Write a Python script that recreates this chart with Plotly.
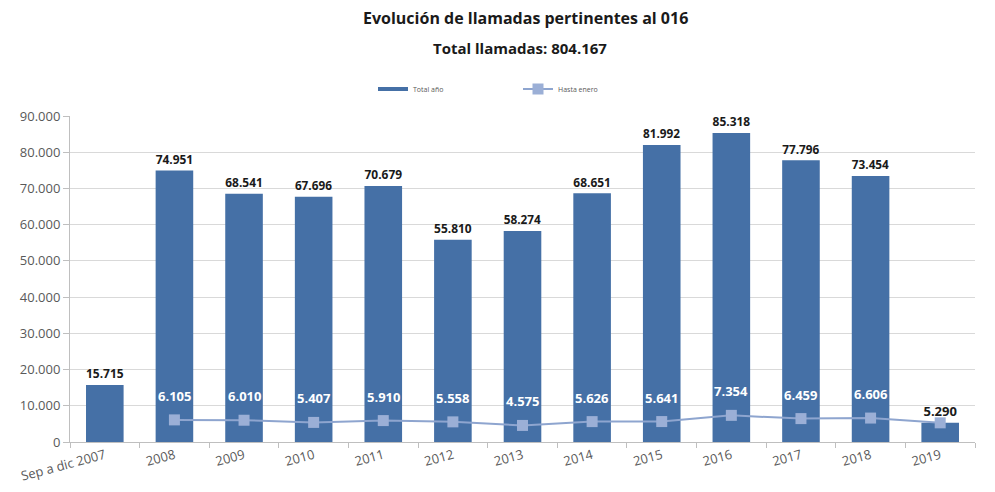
import plotly.graph_objects as go

categories = ["Sep a dic 2007", "2008", "2009", "2010", "2011", "2012", "2013",
              "2014", "2015", "2016", "2017", "2018", "2019"]
total_anio = [15715, 74951, 68541, 67696, 70679, 55810, 58274,
              68651, 81992, 85318, 77796, 73454, 5290]
hasta_enero_cats = categories[1:]
hasta_enero = [6105, 6010, 5407, 5910, 5558, 4575, 5626, 5641, 7354, 6459, 6606, 5290]
y_ticks = [0, 10000, 20000, 30000, 40000, 50000, 60000, 70000, 80000, 90000]
title_text = "Evolución de llamadas pertinentes al 016"
subtitle_text = "Total llamadas: 804.167"


def fmt(v):
    return f"{v:,}".replace(",", ".")


FONT = "Open Sans, DejaVu Sans, sans-serif"
BAR_COLOR = "#4570A6"
W, H = 995, 492
OFF = 8  # default page body margin
ML, MR, MT, MB = 70 - OFF, 28, 116 - OFF, 58
PW, PH = W - ML - MR, H - MT - MB


def px_to_paper(xp, yp):
    """page pixel -> paper coords (page pixels include the body offset)"""
    return (xp - OFF - ML) / PW, (H - MB - (yp - OFF)) / PH


fig = go.Figure()
fig.add_trace(go.Bar(
    x=categories, y=total_anio, name="Total año", showlegend=False,
    marker=dict(color=BAR_COLOR, line=dict(width=0)),
    text=[fmt(v) for v in total_anio], textposition="outside",
    textfont=dict(family=FONT, size=13, color="#1a1a1a", weight="bold"),
    cliponaxis=False,
))
# legend entry for the bars, drawn as a thick line like the reference
fig.add_trace(go.Scatter(
    x=[categories[0]], y=[None], name="Total año", mode="lines",
    line=dict(color=BAR_COLOR, width=4),
))
fig.add_trace(go.Scatter(
    x=hasta_enero_cats, y=hasta_enero, name="Hasta enero", mode="lines+markers",
    line=dict(color="#8EA5CF", width=2),
    marker=dict(symbol="square", size=11, color="#9BAFD6"),
))

for c, v in zip(hasta_enero_cats[:-1], hasta_enero[:-1]):
    fig.add_annotation(x=categories.index(c), y=v, text=fmt(v), showarrow=False, yshift=24,
                       font=dict(family=FONT, size=13, color="white", weight="bold"))

tx, ty = px_to_paper(525, 18)
fig.add_annotation(xref="paper", yref="paper", x=tx, y=ty,
                   xanchor="center", yanchor="middle",
                   text=f"<b>{title_text}</b>", showarrow=False,
                   font=dict(family=FONT, size=16, color="#1a1a1a"))
sx, sy = px_to_paper(520, 48)
fig.add_annotation(xref="paper", yref="paper", x=sx, y=sy,
                   xanchor="center", yanchor="middle",
                   text=f"<b>{subtitle_text}</b>", showarrow=False,
                   font=dict(family=FONT, size=15, color="#1a1a1a"))

lx, ly = px_to_paper(518, 89)
fig.update_layout(
    width=W, height=H,
    paper_bgcolor="white", plot_bgcolor="white",
    margin=dict(l=ML, r=MR, t=MT, b=MB, autoexpand=False),
    bargap=0.46,
    font=dict(family=FONT, color="#595959"),
    legend=dict(orientation="h", x=lx, xanchor="center", y=ly, yanchor="middle",
                font=dict(size=7, color="#595959"),
                itemwidth=30, entrywidth=100, entrywidthmode="pixels"),
    showlegend=True,
)
fig.update_yaxes(range=[0, 90000], tickvals=y_ticks, ticktext=[fmt(v) for v in y_ticks],
                 showgrid=True, gridcolor="#D9D9D9", gridwidth=1,
                 showline=True, linecolor="#BFBFBF", zeroline=False,
                 ticks="outside", ticklen=6, tickcolor="#BFBFBF",
                 tickfont=dict(size=13, color="#595959"))
fig.update_xaxes(type="category", categoryorder="array", categoryarray=categories,
                 range=[-0.5, len(categories) - 0.5],
                 tickangle=-15, showline=True, linecolor="#BFBFBF",
                 ticks="outside", ticklen=5, tickcolor="#BFBFBF", tickson="boundaries",
                 tickfont=dict(size=13, color="#595959"))

fig.write_html("out.html")
